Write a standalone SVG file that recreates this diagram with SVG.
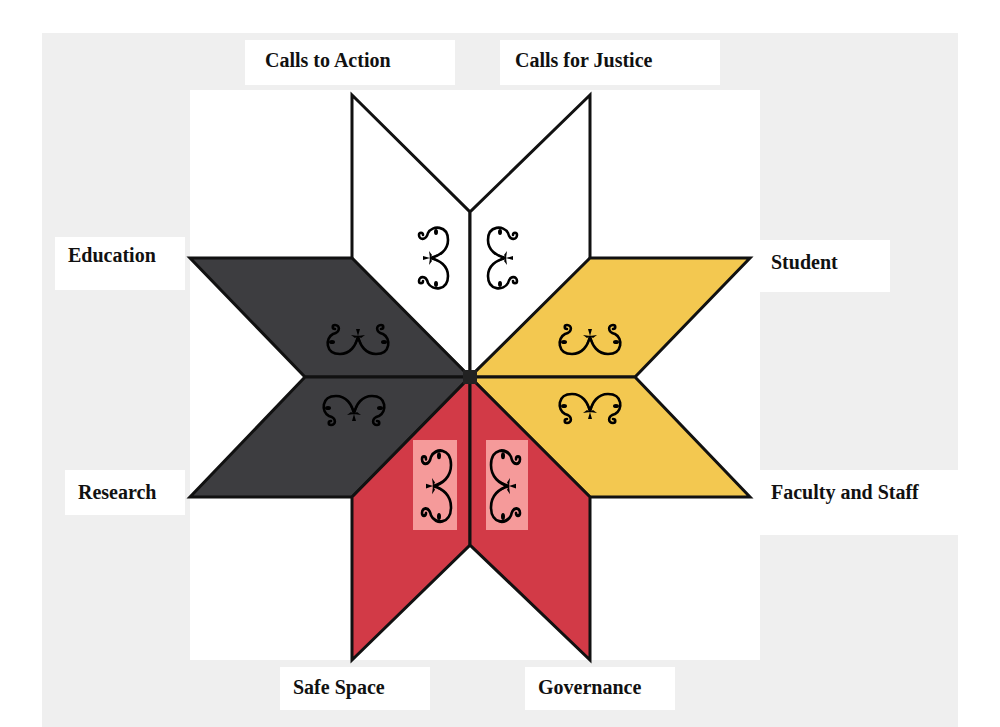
<svg xmlns="http://www.w3.org/2000/svg" width="1000" height="727" viewBox="0 0 1000 727">
<style>
.lbl{font-family:"Liberation Serif",serif;font-weight:bold;font-size:20px;fill:#111}
.box{fill:#fff}
.p{stroke:#111;stroke-width:3;stroke-linejoin:miter}
.o{fill:none;stroke:#000;stroke-width:2.6;stroke-linecap:round}
</style>
<defs>
<g id="orn">
<path class="o" d="M9,13 c0,-3 -4,-3 -4,0 c0,5 7,6 9,-2 C18,3 34,3 34,18 C34,28 26,34 16,36 C26,38 34,44 34,54 C34,69 18,69 14,61 c-2,-8 -9,-7 -9,-2 c0,3 4,3 4,0"/>
<path d="M16,36 L24,32 L21,36 L24,40 Z M16,36 L9,34 L9,38 Z M16,36 L15,29 L18,33 Z M16,36 L15,43 L18,39 Z" fill="#000"/>
<ellipse cx="22" cy="10" rx="2" ry="3" fill="#000"/>
<ellipse cx="22" cy="62" rx="2" ry="3" fill="#000"/>
</g>
</defs>
<rect width="1000" height="727" fill="#fff"/>
<rect x="42" y="33" width="916" height="694" fill="#efefef"/>
<rect x="190" y="90" width="570" height="570" fill="#fff"/>
<g id="star">
<polygon class="p" fill="#fff" points="352,95 470,212 470,377 352,260"/>
<polygon class="p" fill="#fff" points="590,95 470,212 470,377 590,260"/>
<polygon class="p" fill="#3d3d40" points="190,258 352,258 470,377 305,377"/>
<polygon class="p" fill="#3d3d40" points="305,377 470,377 352,497 190,497"/>
<polygon class="p" fill="#f3c850" points="750,258 590,258 470,377 635,377"/>
<polygon class="p" fill="#f3c850" points="635,377 470,377 590,497 750,497"/>
<polygon class="p" fill="#d23a47" points="470,377 470,545 352,660 352,497"/>
<polygon class="p" fill="#d23a47" points="470,377 470,545 590,660 590,497"/>
<rect x="463" y="370" width="14" height="14" fill="#222"/>
<rect x="413" y="440" width="44" height="90" fill="#f59a9a"/>
<rect x="486" y="440" width="42" height="90" fill="#f59a9a"/>
<use href="#orn" transform="translate(414,222)"/>
<use href="#orn" transform="translate(522,222) scale(-1,1)"/>
<use href="#orn" transform="translate(417,444) scale(1,1.17)"/>
<use href="#orn" transform="translate(525,444) scale(-1,1.17)"/>
<use href="#orn" transform="translate(626,320) rotate(90)"/>
<use href="#orn" transform="translate(554,428) rotate(-90)"/>
<use href="#orn" transform="translate(394,320) rotate(90)"/>
<use href="#orn" transform="translate(318,430) rotate(-90)"/>
</g>
<g id="labels">
<rect class="box" x="245" y="40" width="210" height="45"/><text class="lbl" x="265" y="67">Calls to Action</text>
<rect class="box" x="500" y="40" width="220" height="45"/><text class="lbl" x="515" y="67">Calls for Justice</text>
<rect class="box" x="55" y="237" width="130" height="53"/><text class="lbl" x="68" y="262">Education</text>
<rect class="box" x="760" y="240" width="130" height="52"/><text class="lbl" x="771" y="269">Student</text>
<rect class="box" x="65" y="470" width="120" height="45"/><text class="lbl" x="78" y="499">Research</text>
<rect class="box" x="760" y="470" width="198" height="65"/><text class="lbl" x="771" y="499">Faculty and Staff</text>
<rect class="box" x="280" y="667" width="150" height="43"/><text class="lbl" x="293" y="694">Safe Space</text>
<rect class="box" x="525" y="667" width="150" height="43"/><text class="lbl" x="538" y="694">Governance</text>
</g>
</svg>
